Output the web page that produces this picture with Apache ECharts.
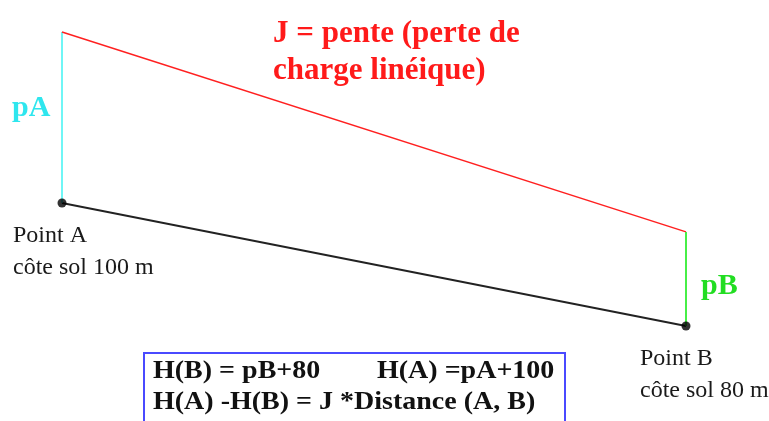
<!DOCTYPE html>
<html lang="fr">
<head>
<meta charset="UTF-8">
<title>Perte de charge linéique</title>
<style>
  * { padding: 0; margin: 0; }
  body { background: #fff; }
</style>
</head>
<body>
<div id="main" style="width: 769px;height:421px;"></div>
<script src="https://cdn.jsdelivr.net/npm/echarts@6/dist/echarts.min.js"></script>
<script>
var distance = 1000;
var coteSol = [100, 80];        // côte sol A, B
var pression = [27.8, 15.3];    // pA, pB
var pointNames = ['Point A', 'Point B'];

var HA = coteSol[0] + pression[0];
var HB = coteSol[1] + pression[1];

var serif = 'Liberation Serif';

var option = {
  animation: false,
  backgroundColor: '#fff',
  grid: { left: 62, right: 83, top: 18.5, height: 369 },
  xAxis: { type: 'value', min: 0, max: distance, show: false },
  yAxis: { type: 'value', min: 70, max: 130, show: false },
  series: [
    {
      // terrain A -> B
      type: 'line',
      data: [[0, coteSol[0]], [distance, coteSol[1]]],
      lineStyle: { color: '#222', width: 1.8 },
      symbol: 'none',
      z: 3
    },
    {
      // pA
      type: 'line',
      data: [[0, coteSol[0]], [0, HA]],
      lineStyle: { color: '#3ff3f3', width: 1.5 },
      symbol: 'none'
    },
    {
      // ligne piézométrique
      type: 'line',
      data: [[0, HA], [distance, HB]],
      lineStyle: { color: '#ff2020', width: 1.5 },
      symbol: 'none'
    },
    {
      // pB
      type: 'line',
      data: [[distance, coteSol[1]], [distance, HB]],
      lineStyle: { color: '#33ee33', width: 1.8 },
      symbol: 'none'
    },
    {
      type: 'scatter',
      data: [[0, coteSol[0]], [distance, coteSol[1]]],
      symbolSize: 9,
      itemStyle: { color: '#000' },
      z: 5
    }
  ],
  graphic: [
    {
      type: 'text', left: 273, top: 15,
      style: {
        text: 'J = pente (perte de\ncharge linéique)',
        fill: '#ff1a1a', fontFamily: serif, fontWeight: 'bold',
        fontSize: 31, lineHeight: 37
      }
    },
    {
      type: 'text', left: 12, top: 93,
      style: { text: 'pA', fill: '#2ee6ee', fontFamily: serif, fontWeight: 'bold', fontSize: 30 }
    },
    {
      type: 'text', left: 701, top: 271,
      style: { text: 'pB', fill: '#22dd22', fontFamily: serif, fontWeight: 'bold', fontSize: 30 }
    },
    {
      type: 'text', left: 13, top: 220,
      style: {
        text: pointNames[0] + '\ncôte sol ' + coteSol[0] + ' m',
        fill: '#1a1a1a', fontFamily: serif, fontSize: 24, lineHeight: 32
      }
    },
    {
      type: 'text', left: 640, top: 343,
      style: {
        text: pointNames[1] + '\ncôte sol ' + coteSol[1] + ' m',
        fill: '#1a1a1a', fontFamily: serif, fontSize: 24, lineHeight: 32
      }
    },
    {
      type: 'rect',
      shape: { x: 144, y: 353, width: 421, height: 90 },
      style: { fill: '#fff', stroke: '#4a4aff', lineWidth: 2 }
    },
    {
      type: 'text', left: 153, top: 357, scaleX: 1.12,
      style: { text: 'H(B) = pB+80', fill: '#111', fontFamily: serif, fontWeight: 'bold', fontSize: 25, lineHeight: 29 }
    },
    {
      type: 'text', left: 377, top: 357, scaleX: 1.12,
      style: { text: 'H(A) =pA+100', fill: '#111', fontFamily: serif, fontWeight: 'bold', fontSize: 25, lineHeight: 29 }
    },
    {
      type: 'text', left: 153, top: 388, scaleX: 1.12,
      style: { text: 'H(A) -H(B) = J *Distance (A, B)', fill: '#111', fontFamily: serif, fontWeight: 'bold', fontSize: 25, lineHeight: 29 }
    }
  ]
};

var myChart = echarts.init(document.getElementById('main'));
myChart.setOption(option);
</script>
</body>
</html>
